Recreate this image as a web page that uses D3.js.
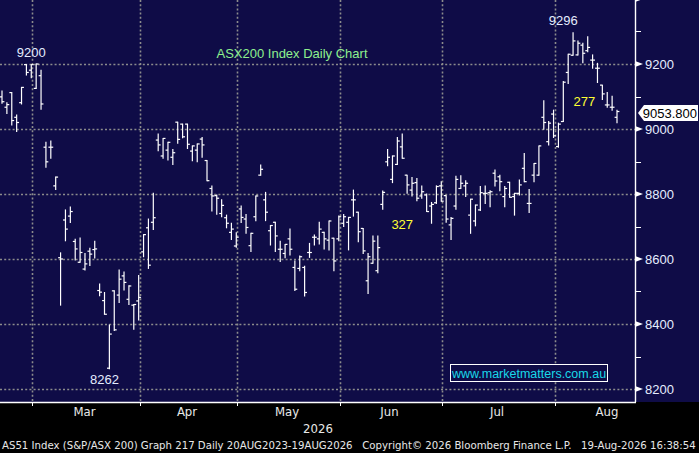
<!DOCTYPE html>
<html>
<head>
<meta charset="utf-8">
<script src="https://cdn.jsdelivr.net/npm/d3@7"></script>
<style>
  body { margin: 0; background: #000; }
  svg { display: block; }
</style>
</head>
<body>
<div id="chart"></div>
<script>
const width = 699;
const height = 453;

// daily OHLC, 19 Feb 2026 .. 19 Aug 2026 (one entry per trading day)
const opens = [9099,9067,9112,9036,9081,9198,9181,9125,9164,8944,8944,8825,8604,8720,8732,8654,8590,8569,8624,8629,
  8503,8472,8264,8502,8489,8548,8476,8458,8471,8622,8696,8713,8966,8917,8935,8913,9021,9015,9015,8932,
  8935,8969,8903,8817,8795,8740,8727,8682,8640,8754,8723,8641,8730,8858,8782,8687,8713,8630,8617,8662,
  8574,8571,8574,8620,8667,8662,8682,8658,8664,8662,8710,8713,8782,8744,8694,8533,8587,8564,8768,8899,
  8845,8891,8945,8858,8812,8835,8794,8797,8763,8773,8825,8795,8705,8763,8817,8825,8735,8717,8751,8802,
  8804,8864,8853,8792,8836,8792,8802,8879,8771,8858,8858,9036,8961,9046,8946,9023,9174,9227,9228,9258,
  9241,9212,9187,9135,9074,9067,9036];
const highs = [9117,9081,9112,9043,9128,9198,9198,9200,9181,8959,8963,8852,8619,8751,8760,8661,8665,8617,8633,8655,
  8523,8497,8397,8502,8566,8560,8518,8460,8549,8675,8723,8802,8985,8971,8959,8937,9021,9015,9015,8948,
  8954,8974,8903,8825,8797,8782,8735,8710,8681,8763,8737,8679,8794,8889,8805,8703,8713,8655,8645,8692,
  8594,8609,8578,8648,8674,8713,8682,8717,8664,8732,8737,8728,8812,8744,8694,8617,8671,8671,8809,8937,
  8917,8974,8985,8858,8851,8848,8825,8800,8774,8825,8838,8795,8728,8855,8856,8841,8784,8766,8823,8825,
  8810,8874,8858,8823,8836,8802,8843,8925,8814,8894,8948,9087,9023,9058,9018,9146,9230,9296,9271,9264,
  9284,9228,9202,9135,9112,9101,9058];
const lows = [9079,9048,9012,8992,9077,9166,9158,9125,9061,8882,8910,8814,8458,8656,8712,8597,8590,8566,8580,8603,
  8487,8430,8262,8380,8466,8505,8460,8384,8412,8607,8571,8691,8933,8910,8905,8891,8956,8973,8940,8902,
  8899,8913,8841,8748,8738,8730,8696,8660,8636,8712,8679,8623,8718,8858,8718,8643,8623,8592,8604,8612,
  8503,8564,8486,8605,8643,8646,8631,8628,8564,8656,8700,8628,8732,8653,8617,8494,8587,8558,8753,8887,
  8835,8891,8910,8802,8794,8779,8787,8746,8710,8771,8778,8713,8660,8753,8817,8792,8679,8702,8749,8771,
  8761,8825,8810,8761,8790,8735,8797,8838,8743,8838,8858,8999,8951,8974,8944,9023,9140,9227,9228,9204,
  9238,9187,9143,9091,9067,9058,9019];
const closes = [9084,9075,9026,9020,9128,9174,9198,9200,9077,8899,8944,8852,8600,8692,8746,8631,8620,8585,8615,8631,
  8498,8430,8369,8382,8538,8528,8517,8460,8482,8675,8581,8727,8951,8971,8959,8927,8968,8976,8953,8948,
  8954,8951,8841,8794,8787,8765,8710,8692,8667,8728,8697,8679,8794,8876,8744,8703,8671,8630,8645,8630,
  8507,8607,8497,8620,8667,8692,8662,8717,8594,8730,8730,8728,8782,8684,8625,8607,8655,8635,8805,8913,
  8917,8963,8910,8828,8833,8787,8807,8746,8768,8823,8778,8723,8725,8845,8833,8833,8784,8766,8804,8802,
  8807,8840,8838,8817,8790,8802,8828,8838,8771,8894,8948,9020,9018,8979,9015,9144,9230,9271,9264,9233,
  9251,9212,9187,9108,9074,9067,9053.8];

// first trading day of each month (bar index); last entry = start of Sep
const monthStarts = [7, 29, 49, 70, 91, 114, 136];
const monthLabels = ['Mar', 'Apr', 'May', 'Jun', 'Jul', 'Aug'];
const yearLabel = '2026';

const majorTicks = [8200, 8400, 8600, 8800, 9000, 9200, 9400];
const minorTicks = [8300, 8500, 8700, 8900, 9100, 9300];
const lastPrice = 9053.8;

const notes = [
  { i: 6, v: 9221, text: '9200', color: '#e4ecff' },
  { i: 21, v: 8215, text: '8262', color: '#e4ecff' },
  { i: 115, v: 9320, text: '9296', color: '#e4ecff' },
  { i: 82, v: 8692, text: '327', color: '#ffff33' },
  { i: 119.3, v: 9071, text: '277', color: '#ffff33' }
];

const plotRight = 636, plotBottom = 402;
const navy = '#0f0c47';

const svg = d3.select('#chart')
  .append('svg')
    .attr('width', width)
    .attr('height', height);

svg.append('rect').attr('width', width).attr('height', height).attr('fill', '#000');
svg.append('rect').attr('width', width).attr('height', plotBottom).attr('fill', navy);

const x = d3.scaleLinear().domain([0, 126]).range([2, 617]);
const y = d3.scaleLinear().domain([8200, 9200]).range([389, 64]);

const gridX = s => Math.round(x(s - 0.8)) + 0.5;

// grid
const grid = svg.append('g')
  .attr('stroke', '#8c8c8c')
  .attr('stroke-width', 1.6)
  .attr('stroke-dasharray', '2,2.2');

grid.selectAll('.hg')
  .data(majorTicks.slice(0, -1))
  .enter()
  .append('line')
    .attr('x1', 0).attr('x2', plotRight)
    .attr('y1', d => Math.round(y(d)) + 0.5)
    .attr('y2', d => Math.round(y(d)) + 0.5);

grid.selectAll('.vg')
  .data(monthStarts.slice(0, -1))
  .enter()
  .append('line')
    .attr('x1', gridX).attr('x2', gridX)
    .attr('y1', 0).attr('y2', plotBottom);

// OHLC bars
const bars = svg.append('g')
  .attr('stroke', '#fff')
  .attr('stroke-width', 1.2)
  .selectAll('g')
  .data(d3.range(opens.length))
  .enter()
  .append('g');

bars.append('line')
  .attr('x1', i => x(i)).attr('x2', i => x(i))
  .attr('y1', i => y(highs[i]) - 0.5).attr('y2', i => y(lows[i]) + 0.5);
bars.append('line')
  .attr('x1', i => x(i) - 2.4).attr('x2', i => x(i))
  .attr('y1', i => y(opens[i])).attr('y2', i => y(opens[i]));
bars.append('line')
  .attr('x1', i => x(i)).attr('x2', i => x(i) + 2.4)
  .attr('y1', i => y(closes[i])).attr('y2', i => y(closes[i]));

// annotations
svg.append('g')
  .selectAll('text')
  .data(notes)
  .enter()
  .append('text')
    .attr('x', d => x(d.i))
    .attr('y', d => y(d.v))
    .attr('text-anchor', 'middle')
    .attr('font-family', 'Liberation Sans, Arial, sans-serif')
    .attr('font-size', 13)
    .attr('fill', d => d.color)
    .text(d => d.text);

svg.append('text')
  .attr('x', 292).attr('y', 58)
  .attr('text-anchor', 'middle')
  .attr('font-family', 'Liberation Sans, Arial, sans-serif')
  .attr('font-size', 13)
  .attr('fill', '#8ef08e')
  .text('ASX200 Index Daily Chart');

// website box
svg.append('rect')
  .attr('x', 450.5).attr('y', 364.5)
  .attr('width', 157).attr('height', 17)
  .attr('fill', navy)
  .attr('stroke', '#fff');
svg.append('text')
  .attr('x', 529).attr('y', 378)
  .attr('text-anchor', 'middle')
  .attr('font-family', 'Liberation Sans, Arial, sans-serif')
  .attr('font-size', 12.5)
  .attr('fill', '#19d8e8')
  .text('www.marketmatters.com.au');

// plot frame
svg.append('line')
  .attr('x1', plotRight - 0.5).attr('x2', plotRight - 0.5)
  .attr('y1', 0).attr('y2', plotBottom)
  .attr('stroke', '#fff').attr('stroke-width', 1.4);
svg.append('line')
  .attr('x1', 0).attr('x2', plotRight)
  .attr('y1', plotBottom + 0.5).attr('y2', plotBottom + 0.5)
  .attr('stroke', '#fff').attr('stroke-width', 1.4);

// right axis
const yAxis = d3.axisRight(y)
  .tickValues(majorTicks.filter(d => y(d) > 8))
  .tickFormat(d3.format('d'))
  .tickSize(0)
  .tickPadding(9);

const ax = svg.append('g')
  .attr('transform', `translate(${plotRight},0)`)
  .call(yAxis);
ax.select('.domain').remove();
ax.selectAll('text')
  .attr('font-family', 'Liberation Sans, Arial, sans-serif')
  .attr('font-size', 13)
  .attr('fill', '#e6eeff');

svg.append('g')
  .selectAll('path')
  .data(majorTicks)
  .enter()
  .append('path')
    .attr('d', d => `M${plotRight - 1},${y(d) - 3}L${plotRight + 7},${y(d)}L${plotRight - 1},${y(d) + 3}Z`)
    .attr('fill', '#fff');

svg.append('g')
  .selectAll('line')
  .data(minorTicks)
  .enter()
  .append('line')
    .attr('x1', plotRight).attr('x2', plotRight + 5)
    .attr('y1', d => Math.round(y(d)) + 0.5).attr('y2', d => Math.round(y(d)) + 0.5)
    .attr('stroke', '#fff');

// last price tag
const ly = y(lastPrice) + 1.5;
svg.append('path')
  .attr('d', `M${plotRight + 2},${ly}L${plotRight + 8},${ly - 8}H698V${ly + 8}H${plotRight + 8}Z`)
  .attr('fill', '#fff');
svg.append('text')
  .attr('x', 697).attr('y', ly + 5)
  .attr('text-anchor', 'end')
  .attr('font-family', 'Liberation Sans, Arial, sans-serif')
  .attr('font-size', 13)
  .attr('fill', '#000')
  .text(d3.format('.3f')(lastPrice));

// month axis
const narrow = 'Liberation Sans Narrow, DejaVu Sans Condensed, Arial Narrow, sans-serif';
svg.append('g')
  .selectAll('line')
  .data(monthStarts.slice(0, -1))
  .enter()
  .append('line')
    .attr('x1', gridX).attr('x2', gridX)
    .attr('y1', plotBottom).attr('y2', plotBottom + 4)
    .attr('stroke', '#fff');

svg.append('g')
  .selectAll('text')
  .data(monthLabels)
  .enter()
  .append('text')
    .attr('x', (d, k) => (gridX(monthStarts[k]) + gridX(monthStarts[k + 1])) / 2 - 2)
    .attr('y', 416)
    .attr('text-anchor', 'middle')
    .attr('font-family', narrow)
    .attr('font-size', 13)
    .attr('fill', '#e8e8e8')
    .text(d => d);

svg.append('text')
  .attr('x', 318).attr('y', 433)
  .attr('text-anchor', 'middle')
  .attr('font-family', narrow)
  .attr('font-size', 13)
  .attr('fill', '#e8e8e8')
  .text(yearLabel);

// footer: shrink the font until the line fits the width
const footer = svg.append('text')
  .attr('x', 2).attr('y', 449)
  .attr('font-family', narrow)
  .attr('font-size', 12.5)
  .attr('fill', '#e8e8e8')
  .style('white-space', 'pre')
  .text('AS51 Index (S&P/ASX 200) Graph 217 Daily 20AUG2023-19AUG2026   Copyright\u00a9 2026 Bloomberg Finance L.P.   19-Aug-2026 16:38:54');
const natural = footer.node().getComputedTextLength();
if (natural > 694) footer.attr('font-size', 12.5 * 694 / natural);
</script>
</body>
</html>
